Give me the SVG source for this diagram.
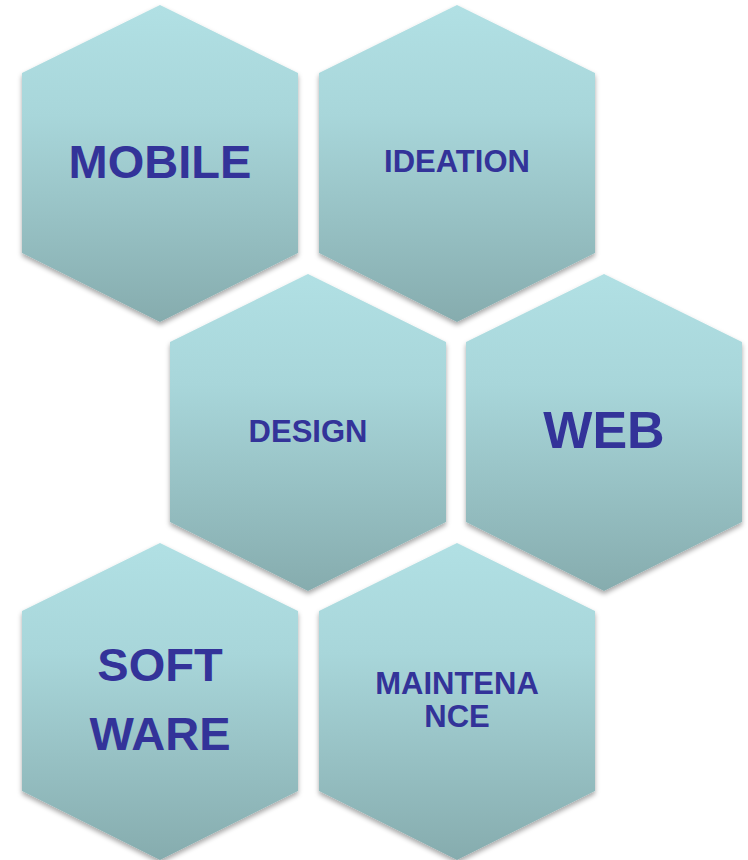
<svg xmlns="http://www.w3.org/2000/svg" width="748" height="860" viewBox="0 0 748 860">
<defs>
<linearGradient id="g" x1="0" y1="0" x2="0" y2="1">
<stop offset="0" stop-color="#B1E0E4"/>
<stop offset="0.35" stop-color="#A8D6DA"/>
<stop offset="1" stop-color="#86ACAE"/>
</linearGradient>
<filter id="sh" x="-10%" y="-10%" width="120%" height="125%">
<feDropShadow dx="0" dy="3" stdDeviation="2.5" flood-color="#000" flood-opacity="0.35"/>
</filter>
<polygon id="hex" points="0,0 138,68 138,248 0,317 -138,248 -138,68"/>
</defs>
<style>
.hex{fill:url(#g);filter:url(#sh);}
text{font-family:"Liberation Sans",Arial,sans-serif;font-weight:bold;fill:#333399;text-anchor:middle;}
</style>
<g id="connectors"/>
<g id="mobile">
<use href="#hex" class="hex" x="160" y="5"/>
<text x="160" y="178" font-size="47">MOBILE</text>
</g>
<g id="ideation">
<use href="#hex" class="hex" x="457" y="5"/>
<text x="457" y="172" font-size="31">IDEATION</text>
</g>
<g id="design">
<use href="#hex" class="hex" x="308" y="274"/>
<text x="308" y="442" font-size="31">DESIGN</text>
</g>
<g id="web">
<use href="#hex" class="hex" x="604" y="274"/>
<text x="604" y="448" font-size="52">WEB</text>
</g>
<g id="software">
<use href="#hex" class="hex" x="160" y="543"/>
<text x="160" y="681" font-size="47">SOFT</text>
<text x="160" y="750" font-size="47">WARE</text>
</g>
<g id="maintenance">
<use href="#hex" class="hex" x="457" y="543"/>
<text x="457" y="694" font-size="31">MAINTENA</text>
<text x="457" y="727" font-size="31">NCE</text>
</g>
</svg>
